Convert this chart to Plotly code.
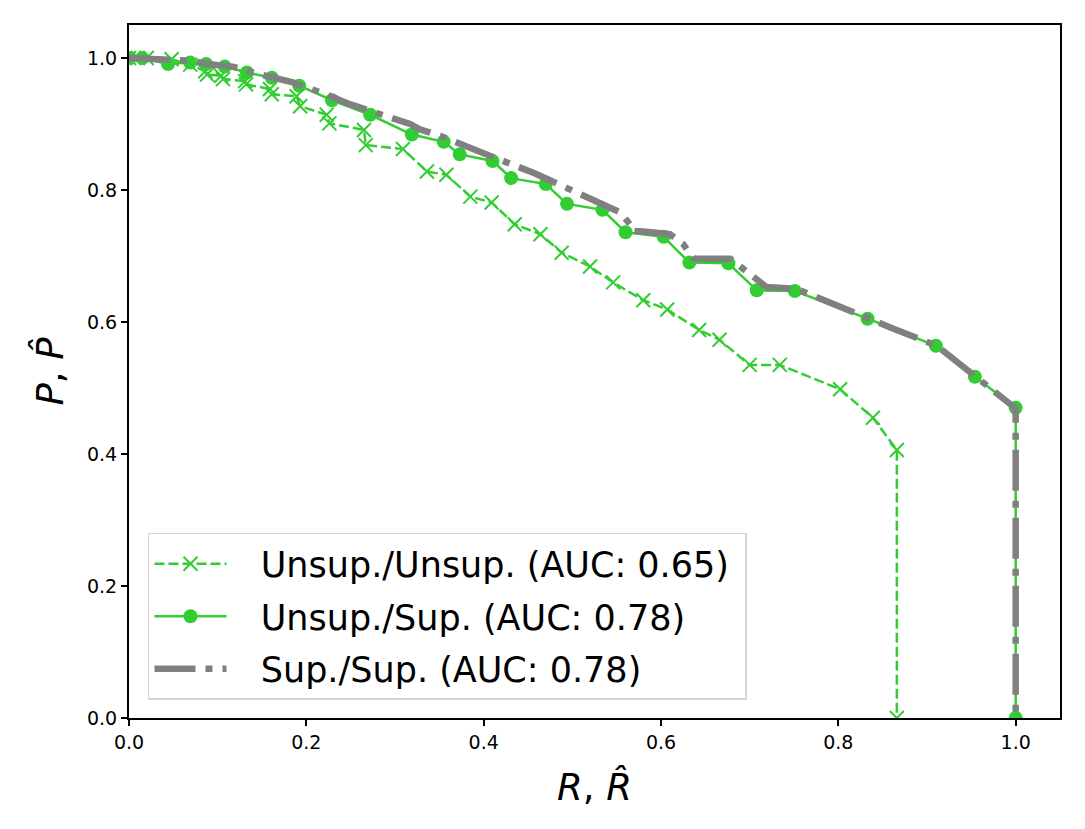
import plotly.graph_objects as go

# precision/recall curves
recall_uu = [0.0, 0.01, 0.02, 0.048, 0.069, 0.086, 0.088, 0.104, 0.106, 0.131, 0.132,
             0.159, 0.161, 0.189, 0.193, 0.223, 0.226, 0.265, 0.267, 0.309, 0.336,
             0.358, 0.385, 0.409, 0.435, 0.464, 0.488, 0.520, 0.546, 0.580, 0.607,
             0.643, 0.666, 0.700, 0.734, 0.802, 0.839, 0.866, 0.866]
prec_uu = [1.0, 1.0, 1.0, 0.998, 0.990, 0.980, 0.975, 0.973, 0.968, 0.965, 0.960,
           0.953, 0.945, 0.942, 0.927, 0.914, 0.901, 0.891, 0.868, 0.862, 0.828,
           0.823, 0.790, 0.781, 0.748, 0.733, 0.705, 0.684, 0.660, 0.633, 0.619,
           0.588, 0.573, 0.535, 0.535, 0.498, 0.455, 0.406, 0.0]

recall_us = [0.0, 0.015, 0.044, 0.069, 0.087, 0.108, 0.133, 0.161, 0.192, 0.229,
             0.272, 0.319, 0.355, 0.373, 0.410, 0.431, 0.470, 0.494, 0.534, 0.560,
             0.603, 0.632, 0.676, 0.708, 0.751, 0.833, 0.910, 0.954, 1.0, 1.0]
prec_us = [1.0, 1.0, 0.991, 0.993, 0.991, 0.987, 0.978, 0.970, 0.958, 0.936,
           0.914, 0.884, 0.873, 0.854, 0.844, 0.818, 0.809, 0.779, 0.770, 0.736,
           0.729, 0.690, 0.689, 0.648, 0.647, 0.605, 0.564, 0.517, 0.470, 0.0]

recall_ss = [0.0, 0.027, 0.069, 0.088, 0.117, 0.148, 0.185, 0.200, 0.217, 0.249,
             0.268, 0.317, 0.328, 0.351, 0.388, 0.404, 0.434, 0.456, 0.471, 0.524,
             0.554, 0.565, 0.567, 0.580, 0.610, 0.625, 0.637, 0.678, 0.689, 0.706,
             0.719, 0.753, 0.776, 0.810, 0.832, 0.860, 0.911, 0.926, 0.956, 0.986,
             1.0, 1.0]
prec_ss = [1.0, 0.998, 0.996, 0.991, 0.987, 0.975, 0.963, 0.955, 0.948, 0.930,
           0.922, 0.900, 0.892, 0.882, 0.862, 0.854, 0.839, 0.826, 0.817, 0.784,
           0.766, 0.748, 0.738, 0.737, 0.733, 0.718, 0.696, 0.696, 0.685, 0.665,
           0.653, 0.650, 0.637, 0.617, 0.605, 0.591, 0.564, 0.548, 0.516, 0.486,
           0.469, 0.0]

labels = ["Unsup./Unsup. (AUC: 0.65)", "Unsup./Sup. (AUC: 0.78)", "Sup./Sup. (AUC: 0.78)"]
green = "#32cd32"
grey = "#808080"
# gap between legend symbol and text, a bit of room after the text
pad_l = "\u00a0\u00a0\u2009"
pad_r = "\u00a0"

fig = go.Figure()
fig.add_trace(go.Scatter(
    x=recall_uu, y=prec_uu, name=pad_l + labels[0] + pad_r, legendgroup="a",
    mode="lines+markers",
    line=dict(color=green, width=2.5, dash="10px,4px"),
    marker=dict(symbol="x-thin", size=14, line=dict(color=green, width=2)),
))
fig.add_trace(go.Scatter(
    x=recall_us, y=prec_us, name=pad_l + labels[1] + pad_r, legendgroup="b",
    mode="lines+markers",
    line=dict(color=green, width=2.5),
    marker=dict(symbol="circle", size=14, color=green),
))
fig.add_trace(go.Scatter(
    x=recall_ss, y=prec_ss, name=pad_l + labels[2] + pad_r, legendgroup="c",
    mode="lines",
    line=dict(color=grey, width=6.5, dash="41px,10px,7px,10px"),
))

axis_style = dict(
    showgrid=False, zeroline=False,
    showline=True, linecolor="black", linewidth=2, mirror=True,
    ticks="outside", ticklen=6, tickwidth=2, tickcolor="black",
    tickfont=dict(size=19, color="black"),
    tickformat=".1f", dtick=0.2, range=[0, 1.05],
)

# page body has an 8px margin, so the figure is 8px smaller and shifted
fig.update_layout(
    width=1077, height=821,
    margin=dict(l=121, r=25, t=17, b=111),
    plot_bgcolor="white", paper_bgcolor="white",
    font=dict(family="DejaVu Sans", color="black"),
    xaxis=dict(axis_style, title=dict(text="<i>R</i>, <i>R\u0302</i>",
                                      font=dict(size=37), standoff=22)),
    yaxis=dict(axis_style, title=dict(text="<i>P</i>, <i>P\u0302</i>",
                                      font=dict(size=37), standoff=12)),
    legend=dict(
        x=0.0204, y=0.026, xanchor="left", yanchor="bottom",
        font=dict(size=35), itemwidth=72, tracegroupgap=4,
        bgcolor="rgba(255,255,255,0.8)", bordercolor="#d4d4d4", borderwidth=1.5,
    ),
)

fig.write_html("out.html")
